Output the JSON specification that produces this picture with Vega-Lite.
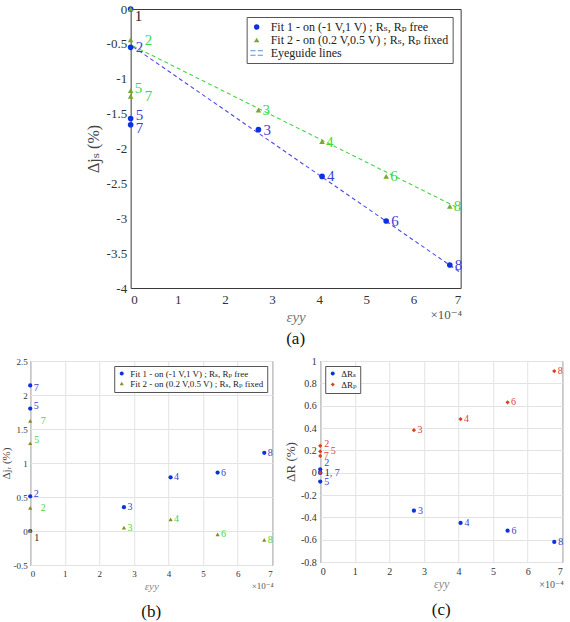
{
  "$schema": "https://vega.github.io/schema/vega-lite/v6.json",
  "background": "white",
  "padding": {"left": 0, "top": 2, "right": 0, "bottom": 0},
  "config": {
    "font": "Liberation Serif, DejaVu Serif, serif",
    "view": {"stroke": "#3a3a3a", "strokeWidth": 1},
    "axis": {"domain": false, "ticks": false, "grid": true, "gridColor": "#e3e3e3", "labelColor": "#333", "labelFont": "Liberation Serif, DejaVu Serif, serif", "titleFont": "Liberation Serif, DejaVu Serif, serif", "titleFontWeight": "normal", "titleColor": "#444"},
    "legend": {"labelFont": "Liberation Serif, DejaVu Serif, serif", "labelColor": "#222", "fillColor": "white", "strokeColor": "#555", "labelLimit": 400},
    "title": {"font": "Liberation Serif, DejaVu Serif, serif", "fontWeight": "normal", "color": "#111", "fontSize": 17},
    "text": {"font": "Liberation Serif, DejaVu Serif, serif"}
  },
  "datasets": {
    "dj_s": [
      {"fit": "Fit 1", "n": 1, "eps_1e4": 0, "dj": 0},
      {"fit": "Fit 1", "n": 2, "eps_1e4": 0, "dj": -0.55},
      {"fit": "Fit 1", "n": 3, "eps_1e4": 2.71, "dj": -1.73},
      {"fit": "Fit 1", "n": 4, "eps_1e4": 4.06, "dj": -2.40},
      {"fit": "Fit 1", "n": 5, "eps_1e4": 0, "dj": -1.57},
      {"fit": "Fit 1", "n": 6, "eps_1e4": 5.42, "dj": -3.04},
      {"fit": "Fit 1", "n": 7, "eps_1e4": 0, "dj": -1.66},
      {"fit": "Fit 1", "n": 8, "eps_1e4": 6.77, "dj": -3.67},
      {"fit": "Fit 2", "n": 1, "eps_1e4": 0, "dj": 0},
      {"fit": "Fit 2", "n": 2, "eps_1e4": 0, "dj": -0.44},
      {"fit": "Fit 2", "n": 3, "eps_1e4": 2.71, "dj": -1.45},
      {"fit": "Fit 2", "n": 4, "eps_1e4": 4.06, "dj": -1.90},
      {"fit": "Fit 2", "n": 5, "eps_1e4": 0, "dj": -1.17},
      {"fit": "Fit 2", "n": 6, "eps_1e4": 5.42, "dj": -2.40},
      {"fit": "Fit 2", "n": 7, "eps_1e4": 0, "dj": -1.25},
      {"fit": "Fit 2", "n": 8, "eps_1e4": 6.77, "dj": -2.83}
    ],
    "guides": [
      {"fit": "Fit 1", "eps_1e4": 0.05, "dj": -0.54},
      {"fit": "Fit 1", "eps_1e4": 7, "dj": -3.78},
      {"fit": "Fit 2", "eps_1e4": 0.05, "dj": -0.53},
      {"fit": "Fit 2", "eps_1e4": 7, "dj": -2.87}
    ],
    "dj_r": [
      {"fit": "Fit 1", "n": 1, "eps_1e4": 0, "dj": 0},
      {"fit": "Fit 1", "n": 2, "eps_1e4": 0, "dj": 0.51},
      {"fit": "Fit 1", "n": 3, "eps_1e4": 2.71, "dj": 0.35},
      {"fit": "Fit 1", "n": 4, "eps_1e4": 4.06, "dj": 0.79},
      {"fit": "Fit 1", "n": 5, "eps_1e4": 0, "dj": 1.80},
      {"fit": "Fit 1", "n": 6, "eps_1e4": 5.42, "dj": 0.86},
      {"fit": "Fit 1", "n": 7, "eps_1e4": 0, "dj": 2.14},
      {"fit": "Fit 1", "n": 8, "eps_1e4": 6.77, "dj": 1.15},
      {"fit": "Fit 2", "n": 1, "eps_1e4": 0, "dj": 0},
      {"fit": "Fit 2", "n": 2, "eps_1e4": 0, "dj": 0.34},
      {"fit": "Fit 2", "n": 3, "eps_1e4": 2.71, "dj": 0.05},
      {"fit": "Fit 2", "n": 4, "eps_1e4": 4.06, "dj": 0.17},
      {"fit": "Fit 2", "n": 5, "eps_1e4": 0, "dj": 1.29},
      {"fit": "Fit 2", "n": 6, "eps_1e4": 5.42, "dj": -0.05},
      {"fit": "Fit 2", "n": 7, "eps_1e4": 0, "dj": 1.62},
      {"fit": "Fit 2", "n": 8, "eps_1e4": 6.77, "dj": -0.13}
    ],
    "dR": [
      {"fit": "ΔRₛ", "n": 1, "eps_1e4": 0, "dr": 0},
      {"fit": "ΔRₛ", "n": 2, "eps_1e4": 0, "dr": 0.03},
      {"fit": "ΔRₛ", "n": 3, "eps_1e4": 2.71, "dr": -0.34},
      {"fit": "ΔRₛ", "n": 4, "eps_1e4": 4.06, "dr": -0.45},
      {"fit": "ΔRₛ", "n": 5, "eps_1e4": 0, "dr": -0.08},
      {"fit": "ΔRₛ", "n": 6, "eps_1e4": 5.42, "dr": -0.52},
      {"fit": "ΔRₛ", "n": 7, "eps_1e4": 0, "dr": 0},
      {"fit": "ΔRₛ", "n": 8, "eps_1e4": 6.77, "dr": -0.62},
      {"fit": "ΔRₚ", "n": 1, "eps_1e4": 0, "dr": 0},
      {"fit": "ΔRₚ", "n": 2, "eps_1e4": 0, "dr": 0.24},
      {"fit": "ΔRₚ", "n": 3, "eps_1e4": 2.71, "dr": 0.38},
      {"fit": "ΔRₚ", "n": 4, "eps_1e4": 4.06, "dr": 0.48},
      {"fit": "ΔRₚ", "n": 5, "eps_1e4": 0, "dr": 0.19},
      {"fit": "ΔRₚ", "n": 6, "eps_1e4": 5.42, "dr": 0.63},
      {"fit": "ΔRₚ", "n": 7, "eps_1e4": 0, "dr": 0.15},
      {"fit": "ΔRₚ", "n": 8, "eps_1e4": 6.77, "dr": 0.91}
    ]
  },
  "spacing": 7,
  "center": true,
  "resolve": {"scale": {"color": "independent", "shape": "independent"}},
  "vconcat": [
    {
      "width": 330,
      "height": 279,
      "title": {"text": "(a)", "orient": "bottom", "frame": "group", "anchor": "middle", "offset": 7},
      "layer": [
        {
          "data": {"name": "guides"},
          "mark": {"type": "line", "strokeDash": [4, 3], "strokeWidth": 1.1},
          "encoding": {
            "x": {"field": "eps_1e4", "type": "quantitative", "scale": {"domain": [0, 7], "nice": false},
                  "axis": {"orient": "bottom", "title": "×10⁻⁴", "labels": false, "grid": false, "titleX": 331, "titleY": 26, "titleAlign": "right", "titleBaseline": "middle", "titleFontSize": 13, "titleColor": "#555"}},
            "y": {"field": "dj", "type": "quantitative", "scale": {"domain": [-4, 0], "nice": false}, "axis": null},
            "color": {"field": "fit", "type": "nominal", "scale": {"domain": ["Fit 1", "Fit 2"], "range": ["#4a4ae8", "#44d644"]}, "legend": null}
          }
        },
        {
          "data": {"name": "dj_s"},
          "mark": {"type": "point", "filled": true, "opacity": 1, "size": 32},
          "encoding": {
            "x": {"field": "eps_1e4", "type": "quantitative", "scale": {"domain": [0, 7], "nice": false},
                  "axis": {"orient": "bottom", "title": "εyy", "values": [0, 1, 2, 3, 4, 5, 6, 7], "labelFontSize": 13, "labelPadding": 5, "titleFontSize": 15, "titleFontStyle": "italic", "titleColor": "#777", "titlePadding": 3}},
            "y": {"field": "dj", "type": "quantitative", "scale": {"domain": [-4, 0], "nice": false},
                  "axis": {"orient": "left", "title": "Δjₛ (%)", "values": [-4, -3.5, -3, -2.5, -2, -1.5, -1, -0.5, 0], "labelExpr": "'' + datum.value", "labelFontSize": 13, "labelPadding": 4, "titleFontSize": 16, "titlePadding": 5}},
            "color": {"field": "fit", "type": "nominal",
                      "scale": {"domain": ["Fit 1", "Fit 2", "Eyeguide lines"], "range": ["#0a32e0", "#77a833", "#5a8ee0"]},
                      "legend": {"title": null, "orient": "top-right", "offset": 8, "padding": 4, "labelFontSize": 12, "rowPadding": 1, "symbolSize": 30, "labelOffset": 8,
                                 "labelExpr": "datum.label === 'Fit 1' ? 'Fit 1 - on (-1 V,1 V) ; Rₛ, Rₚ free' : datum.label === 'Fit 2' ? 'Fit 2 - on (0.2 V,0.5 V) ; Rₛ, Rₚ fixed' : datum.label"}},
            "shape": {"field": "fit", "type": "nominal",
                      "scale": {"domain": ["Fit 1", "Fit 2", "Eyeguide lines"], "range": ["circle", "triangle-up", "M-2.3,-1H-0.4V-0.6H-2.3Z M0.4,-1H2.3V-0.6H0.4Z M-2.3,0.6H-0.4V1H-2.3Z M0.4,0.6H2.3V1H0.4Z"]},
                      "legend": {"title": null, "orient": "top-right", "offset": 8, "padding": 4, "labelFontSize": 12, "rowPadding": 1, "symbolSize": 30, "labelOffset": 8,
                                 "labelExpr": "datum.label === 'Fit 1' ? 'Fit 1 - on (-1 V,1 V) ; Rₛ, Rₚ free' : datum.label === 'Fit 2' ? 'Fit 2 - on (0.2 V,0.5 V) ; Rₛ, Rₚ fixed' : datum.label"}}
          }
        },
        {
          "data": {"name": "dj_s"},
          "transform": [{"filter": "datum.fit == 'Fit 1' && indexof([2, 3, 4, 6, 8], datum.n) >= 0"}],
          "mark": {"type": "text", "align": "left", "baseline": "middle", "dx": 5, "fontSize": 15, "color": "#3c3cd8"},
          "encoding": {"x": {"field": "eps_1e4", "type": "quantitative", "axis": null}, "y": {"field": "dj", "type": "quantitative", "axis": null}, "text": {"field": "n"}}
        },
        {
          "data": {"name": "dj_s"},
          "transform": [{"filter": "datum.fit == 'Fit 1' && datum.n == 5"}],
          "mark": {"type": "text", "align": "left", "baseline": "middle", "dx": 5, "dy": -4, "fontSize": 15, "color": "#3c3cd8"},
          "encoding": {"x": {"field": "eps_1e4", "type": "quantitative", "axis": null}, "y": {"field": "dj", "type": "quantitative", "axis": null}, "text": {"field": "n"}}
        },
        {
          "data": {"name": "dj_s"},
          "transform": [{"filter": "datum.fit == 'Fit 1' && datum.n == 7"}],
          "mark": {"type": "text", "align": "left", "baseline": "middle", "dx": 5, "dy": 3, "fontSize": 15, "color": "#3c3cd8"},
          "encoding": {"x": {"field": "eps_1e4", "type": "quantitative", "axis": null}, "y": {"field": "dj", "type": "quantitative", "axis": null}, "text": {"field": "n"}}
        },
        {
          "data": {"name": "dj_s"},
          "transform": [{"filter": "datum.fit == 'Fit 2' && indexof([3, 4, 6, 8], datum.n) >= 0"}],
          "mark": {"type": "text", "align": "left", "baseline": "middle", "dx": 4, "fontSize": 15, "color": "#3fd83f"},
          "encoding": {"x": {"field": "eps_1e4", "type": "quantitative", "axis": null}, "y": {"field": "dj", "type": "quantitative", "axis": null}, "text": {"field": "n"}}
        },
        {
          "data": {"name": "dj_s"},
          "transform": [{"filter": "datum.fit == 'Fit 2' && datum.n == 5"}],
          "mark": {"type": "text", "align": "left", "baseline": "middle", "dx": 4, "dy": -3, "fontSize": 15, "color": "#3fd83f"},
          "encoding": {"x": {"field": "eps_1e4", "type": "quantitative", "axis": null}, "y": {"field": "dj", "type": "quantitative", "axis": null}, "text": {"field": "n"}}
        },
        {
          "data": {"name": "dj_s"},
          "transform": [{"filter": "datum.fit == 'Fit 2' && indexof([2, 7], datum.n) >= 0"}],
          "mark": {"type": "text", "align": "left", "baseline": "middle", "dx": 14, "fontSize": 15, "color": "#3fd83f"},
          "encoding": {"x": {"field": "eps_1e4", "type": "quantitative", "axis": null}, "y": {"field": "dj", "type": "quantitative", "axis": null}, "text": {"field": "n"}}
        },
        {
          "data": {"name": "dj_s"},
          "transform": [{"filter": "datum.fit == 'Fit 1' && datum.n == 1"}],
          "mark": {"type": "text", "align": "left", "baseline": "middle", "dx": 4, "dy": 7, "fontSize": 15, "color": "#222"},
          "encoding": {"x": {"field": "eps_1e4", "type": "quantitative", "axis": null}, "y": {"field": "dj", "type": "quantitative", "axis": null}, "text": {"field": "n"}}
        }
      ],
      "resolve": {"scale": {"color": "independent", "shape": "independent"}, "axis": {"x": "independent", "y": "independent"}}
    },
    {
      "spacing": 9,
      "resolve": {"scale": {"color": "independent", "shape": "independent"}},
      "hconcat": [
        {
          "width": 242,
          "height": 204,
          "title": {"text": "(b)", "orient": "bottom", "frame": "group", "anchor": "middle", "offset": 13},
          "layer": [
            {
              "data": {"name": "dj_r"},
              "mark": {"type": "point", "filled": true, "opacity": 1, "size": 18},
              "encoding": {
                "x": {"field": "eps_1e4", "type": "quantitative", "scale": {"domain": [0, 7], "nice": false},
                      "axis": {"orient": "bottom", "title": "εyy", "values": [0, 1, 2, 3, 4, 5, 6, 7], "labelFontSize": 9, "labelPadding": 4, "titleFontSize": 11, "titleFontStyle": "italic", "titleColor": "#888", "titlePadding": 2}},
                "y": {"field": "dj", "type": "quantitative", "scale": {"domain": [-0.5, 2.5], "nice": false},
                      "axis": {"orient": "left", "title": "Δjᵣ (%)", "values": [-0.5, 0, 0.5, 1, 1.5, 2, 2.5], "labelExpr": "'' + datum.value", "labelFontSize": 9, "labelPadding": 3, "titleFontSize": 11, "titlePadding": 1}},
                "color": {"field": "fit", "type": "nominal",
                          "scale": {"domain": ["Fit 1", "Fit 2"], "range": ["#0a32e0", "#8a8a2a"]},
                          "legend": {"title": null, "orient": "top-right", "offset": 5, "padding": 3, "labelFontSize": 9, "rowPadding": 0, "symbolSize": 16,
                                     "labelExpr": "datum.label === 'Fit 1' ? 'Fit 1 - on (-1 V,1 V) ; Rₛ, Rₚ free' : 'Fit 2 - on (0.2 V,0.5 V) ; Rₛ, Rₚ fixed'"}},
                "shape": {"field": "fit", "type": "nominal", "scale": {"domain": ["Fit 1", "Fit 2"], "range": ["circle", "triangle-up"]}}
              }
            },
            {
              "data": {"name": "dj_r"},
              "transform": [{"filter": "datum.fit == 'Fit 1' && indexof([3, 4, 6, 8], datum.n) >= 0"}],
              "mark": {"type": "text", "align": "left", "baseline": "middle", "dx": 3.5, "fontSize": 10, "color": "#4040d0"},
              "encoding": {"x": {"field": "eps_1e4", "type": "quantitative", "axis": null}, "y": {"field": "dj", "type": "quantitative", "axis": null}, "text": {"field": "n"}}
            },
            {
              "data": {"name": "dj_r"},
              "transform": [{"filter": "datum.fit == 'Fit 1' && datum.n == 7"}],
              "mark": {"type": "text", "align": "left", "baseline": "middle", "dx": 3.5, "dy": 3, "fontSize": 10, "color": "#4040d0"},
              "encoding": {"x": {"field": "eps_1e4", "type": "quantitative", "axis": null}, "y": {"field": "dj", "type": "quantitative", "axis": null}, "text": {"field": "n"}}
            },
            {
              "data": {"name": "dj_r"},
              "transform": [{"filter": "datum.fit == 'Fit 1' && indexof([2, 5], datum.n) >= 0"}],
              "mark": {"type": "text", "align": "left", "baseline": "middle", "dx": 3.5, "dy": -2.5, "fontSize": 10, "color": "#4040d0"},
              "encoding": {"x": {"field": "eps_1e4", "type": "quantitative", "axis": null}, "y": {"field": "dj", "type": "quantitative", "axis": null}, "text": {"field": "n"}}
            },
            {
              "data": {"name": "dj_r"},
              "transform": [{"filter": "datum.fit == 'Fit 2' && indexof([3, 4, 6, 8], datum.n) >= 0"}],
              "mark": {"type": "text", "align": "left", "baseline": "middle", "dx": 3.5, "fontSize": 10, "color": "#3fd83f"},
              "encoding": {"x": {"field": "eps_1e4", "type": "quantitative", "axis": null}, "y": {"field": "dj", "type": "quantitative", "axis": null}, "text": {"field": "n"}}
            },
            {
              "data": {"name": "dj_r"},
              "transform": [{"filter": "datum.fit == 'Fit 2' && datum.n == 5"}],
              "mark": {"type": "text", "align": "left", "baseline": "middle", "dx": 4, "dy": -3, "fontSize": 10, "color": "#3fd83f"},
              "encoding": {"x": {"field": "eps_1e4", "type": "quantitative", "axis": null}, "y": {"field": "dj", "type": "quantitative", "axis": null}, "text": {"field": "n"}}
            },
            {
              "data": {"name": "dj_r"},
              "transform": [{"filter": "datum.fit == 'Fit 2' && indexof([2, 7], datum.n) >= 0"}],
              "mark": {"type": "text", "align": "left", "baseline": "middle", "dx": 10.5, "fontSize": 10, "color": "#3fd83f"},
              "encoding": {"x": {"field": "eps_1e4", "type": "quantitative", "axis": null}, "y": {"field": "dj", "type": "quantitative", "axis": null}, "text": {"field": "n"}}
            },
            {
              "data": {"name": "dj_r"},
              "transform": [{"filter": "datum.fit == 'Fit 1' && datum.n == 1"}],
              "mark": {"type": "text", "align": "left", "baseline": "middle", "dx": 4, "dy": 7, "fontSize": 10, "color": "#222"},
              "encoding": {"x": {"field": "eps_1e4", "type": "quantitative", "axis": null}, "y": {"field": "dj", "type": "quantitative", "axis": null}, "text": {"field": "n"}}
            },
            {
              "data": {"name": "dj_r"},
              "transform": [{"filter": "datum.n == 1 && datum.fit == 'Fit 2'"}],
              "mark": {"type": "point", "opacity": 0},
              "encoding": {
                "x": {"field": "eps_1e4", "type": "quantitative",
                      "axis": {"orient": "bottom", "title": "×10⁻⁴", "labels": false, "grid": false, "titleX": 243, "titleY": 20, "titleAlign": "right", "titleBaseline": "middle", "titleFontSize": 9, "titleColor": "#555"}},
                "y": {"field": "dj", "type": "quantitative", "axis": null}
              }
            }
          ],
          "resolve": {"axis": {"x": "independent", "y": "independent"}}
        },
        {
          "width": 242,
          "height": 201,
          "title": {"text": "(c)", "orient": "bottom", "frame": "group", "anchor": "middle", "offset": 13},
          "layer": [
            {
              "data": {"name": "dR"},
              "mark": {"type": "point", "filled": true, "opacity": 1, "size": 18},
              "encoding": {
                "x": {"field": "eps_1e4", "type": "quantitative", "scale": {"domain": [0, 7], "nice": false},
                      "axis": {"orient": "bottom", "title": "εyy", "values": [0, 1, 2, 3, 4, 5, 6, 7], "labelFontSize": 10, "labelPadding": 4, "titleFontSize": 12, "titleFontStyle": "italic", "titleColor": "#888", "titlePadding": 2}},
                "y": {"field": "dr", "type": "quantitative", "scale": {"domain": [-0.8, 1], "nice": false},
                      "axis": {"orient": "left", "title": "ΔR (%)", "values": [-0.8, -0.6, -0.4, -0.2, 0, 0.2, 0.4, 0.6, 0.8, 1], "labelExpr": "'' + datum.value", "labelFontSize": 10, "labelPadding": 4, "titleFontSize": 13, "titlePadding": 3}},
                "color": {"field": "fit", "type": "nominal",
                          "scale": {"domain": ["ΔRₛ", "ΔRₚ"], "range": ["#0a32e0", "#d8401c"]},
                          "legend": {"title": null, "orient": "top-left", "offset": 5, "padding": 3, "labelFontSize": 9, "rowPadding": 1, "symbolSize": 16}},
                "shape": {"field": "fit", "type": "nominal", "scale": {"domain": ["ΔRₛ", "ΔRₚ"], "range": ["circle", "diamond"]}}
              }
            },
            {
              "data": {"name": "dR"},
              "transform": [{"filter": "datum.fit == 'ΔRₛ' && indexof([3, 4, 5, 6, 8], datum.n) >= 0"}],
              "mark": {"type": "text", "align": "left", "baseline": "middle", "dx": 4, "fontSize": 10, "color": "#4040d0"},
              "encoding": {"x": {"field": "eps_1e4", "type": "quantitative", "axis": null}, "y": {"field": "dr", "type": "quantitative", "axis": null}, "text": {"field": "n"}}
            },
            {
              "data": {"name": "dR"},
              "transform": [{"filter": "datum.fit == 'ΔRₛ' && datum.n == 2"}],
              "mark": {"type": "text", "align": "left", "baseline": "middle", "dx": 4, "dy": -6, "fontSize": 10, "color": "#4040d0"},
              "encoding": {"x": {"field": "eps_1e4", "type": "quantitative", "axis": null}, "y": {"field": "dr", "type": "quantitative", "axis": null}, "text": {"field": "n"}}
            },
            {
              "data": {"name": "dR"},
              "transform": [{"filter": "datum.fit == 'ΔRₛ' && datum.n == 7"}],
              "mark": {"type": "text", "align": "left", "baseline": "middle", "dx": 9.5, "fontSize": 10, "color": "#4040d0", "text": ", 7"},
              "encoding": {"x": {"field": "eps_1e4", "type": "quantitative", "axis": null}, "y": {"field": "dr", "type": "quantitative", "axis": null}}
            },
            {
              "data": {"name": "dR"},
              "transform": [{"filter": "datum.fit == 'ΔRₛ' && datum.n == 1"}],
              "mark": {"type": "text", "align": "left", "baseline": "middle", "dx": 4.5, "fontSize": 10, "color": "#222"},
              "encoding": {"x": {"field": "eps_1e4", "type": "quantitative", "axis": null}, "y": {"field": "dr", "type": "quantitative", "axis": null}, "text": {"field": "n"}}
            },
            {
              "data": {"name": "dR"},
              "transform": [{"filter": "datum.fit == 'ΔRₚ' && indexof([3, 4, 6, 7, 8], datum.n) >= 0"}],
              "mark": {"type": "text", "align": "left", "baseline": "middle", "dx": 3.5, "fontSize": 10, "color": "#e04040"},
              "encoding": {"x": {"field": "eps_1e4", "type": "quantitative", "axis": null}, "y": {"field": "dr", "type": "quantitative", "axis": null}, "text": {"field": "n"}}
            },
            {
              "data": {"name": "dR"},
              "transform": [{"filter": "datum.fit == 'ΔRₚ' && datum.n == 2"}],
              "mark": {"type": "text", "align": "left", "baseline": "middle", "dx": 4, "dy": -2, "fontSize": 10, "color": "#e04040"},
              "encoding": {"x": {"field": "eps_1e4", "type": "quantitative", "axis": null}, "y": {"field": "dr", "type": "quantitative", "axis": null}, "text": {"field": "n"}}
            },
            {
              "data": {"name": "dR"},
              "transform": [{"filter": "datum.fit == 'ΔRₚ' && datum.n == 5"}],
              "mark": {"type": "text", "align": "left", "baseline": "middle", "dx": 10.5, "fontSize": 10, "color": "#e04040"},
              "encoding": {"x": {"field": "eps_1e4", "type": "quantitative", "axis": null}, "y": {"field": "dr", "type": "quantitative", "axis": null}, "text": {"field": "n"}}
            },
            {
              "data": {"name": "dR"},
              "transform": [{"filter": "datum.n == 8 && datum.fit == 'ΔRₛ'"}],
              "mark": {"type": "point", "opacity": 0},
              "encoding": {
                "x": {"field": "eps_1e4", "type": "quantitative",
                      "axis": {"orient": "bottom", "title": "×10⁻⁴", "labels": false, "grid": false, "titleX": 243, "titleY": 22, "titleAlign": "right", "titleBaseline": "middle", "titleFontSize": 10, "titleColor": "#555"}},
                "y": {"field": "dr", "type": "quantitative", "axis": null}
              }
            }
          ],
          "resolve": {"axis": {"x": "independent", "y": "independent"}}
        }
      ]
    }
  ]
}
